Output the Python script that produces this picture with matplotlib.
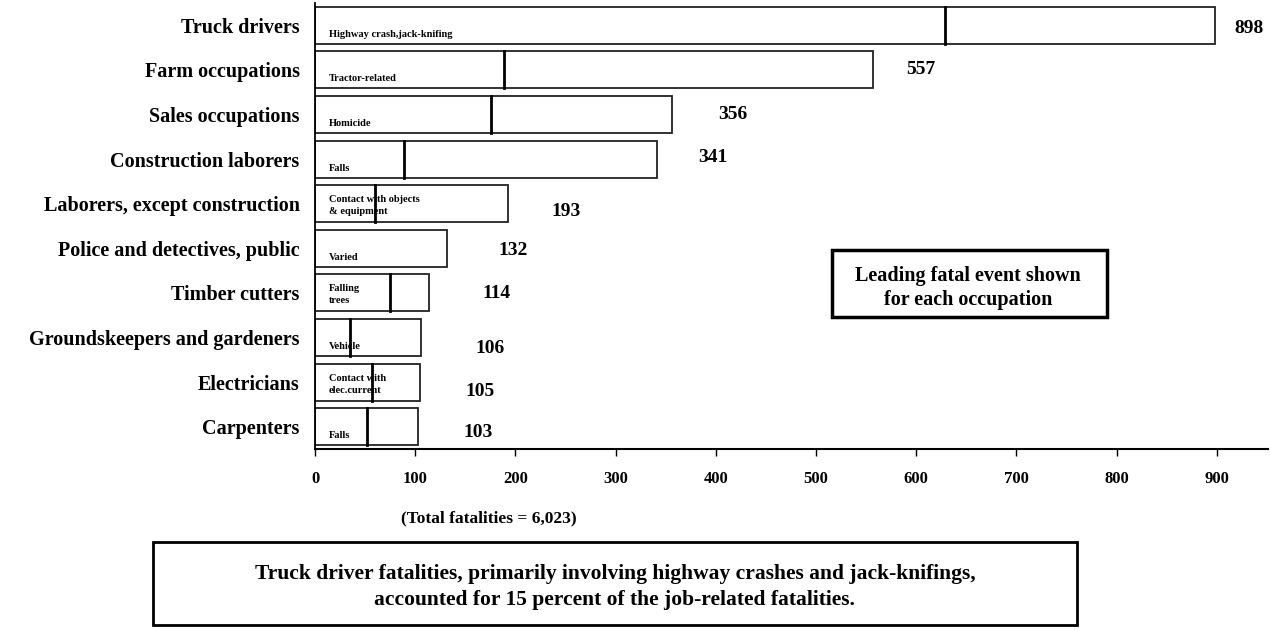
import numpy as np
import matplotlib.pyplot as plt
from matplotlib.patches import Rectangle

# Fatal occupational injuries by occupation, with the leading fatal event
occupations = ["Truck drivers", "Farm occupations", "Sales occupations",
               "Construction laborers", "Laborers, except construction",
               "Police and detectives, public", "Timber cutters",
               "Groundskeepers and gardeners", "Electricians", "Carpenters"]
fatalities = [898, 557, 356, 341, 193, 132, 114, 106, 105, 103]
leading_event = [629, 189, 176, 89, 60, None, 75, 35, 57, 52]
event_names = ["Highway crash,jack-knifing", "Tractor-related", "Homicide",
               "Falls", "Contact with objects\n& equipment", "Varied",
               "Falling\ntrees", "Vehicle", "Contact with\nelec.current", "Falls"]
xticks = [0, 100, 200, 300, 400, 500, 600, 700, 800, 900]

# label placement (pixels right of bar end / below centre)
label_dx = [19, 33, 46, 41, 43, 51, 53, 54, 45, 45]
label_dy = [-3, 0, 0, 2, -8, -2, -1, -11, -9, -6]

plt.rcParams["font.family"] = ["Liberation Serif", "DejaVu Serif"]
plt.rcParams["font.weight"] = "bold"

fig = plt.figure(figsize=(12.71, 6.30), dpi=100)
ax = fig.add_axes([315 / 1271, 1 - 449 / 630, 953 / 1271, 446 / 630])

y = np.arange(len(occupations))
h = 0.83
ax.barh(y, fatalities, height=h, color="white", edgecolor="#222222",
        linewidth=1.3)

for i, lead in enumerate(leading_event):
    if lead is not None:
        ax.plot([lead, lead], [y[i] - h / 2, y[i] + h / 2], color="black",
                lw=2)
    two_lines = "\n" in event_names[i]
    ax.annotate(event_names[i], (0, y[i]), xytext=(14, -2 if two_lines else -9),
                textcoords="offset pixels", ha="left", va="center",
                fontsize=7.5, linespacing=1.45)
    ax.annotate(str(fatalities[i]), (fatalities[i], y[i]),
                xytext=(label_dx[i], label_dy[i]), textcoords="offset pixels",
                ha="left", va="center", fontsize=14)

ax.set_xlim(0, 951)
ax.set_ylim(len(occupations) - 0.5, -0.5)
ax.set_yticks(y)
ax.set_yticklabels(occupations, fontsize=14.5)
ax.tick_params(axis="y", length=0, pad=11)
ax.set_xticks(xticks)
ax.tick_params(axis="x", direction="out", length=5, width=1, labelsize=12,
               pad=11)
for s in ["top", "right"]:
    ax.spines[s].set_visible(False)
ax.spines["left"].set_linewidth(1.3)
ax.spines["bottom"].set_linewidth(1.5)

fig.text(489 / 1271, 1 - 518 / 630, "(Total fatalities = 6,023)",
         ha="center", va="center", fontsize=12.5)

# note box inside plot area
fig.add_artist(Rectangle((832 / 1271, 1 - 317 / 630), 275 / 1271, 67 / 630,
                         transform=fig.transFigure, fill=False,
                         edgecolor="black", lw=2.5))
fig.text(968 / 1271, 1 - 288 / 630,
         "Leading fatal event shown\nfor each occupation",
         ha="center", va="center", fontsize=14.5, linespacing=1.3)

# summary box at the bottom
fig.add_artist(Rectangle((153 / 1271, 1 - 625 / 630), 924 / 1271, 83 / 630,
                         transform=fig.transFigure, fill=False,
                         edgecolor="black", lw=2))
fig.text(615 / 1271, 1 - 587 / 630,
         "Truck driver fatalities, primarily involving highway crashes and jack-knifings,\n"
         "accounted for 15 percent of the job-related fatalities.",
         ha="center", va="center", fontsize=15.5, linespacing=1.4)

fig.savefig("out.png", dpi=100)
